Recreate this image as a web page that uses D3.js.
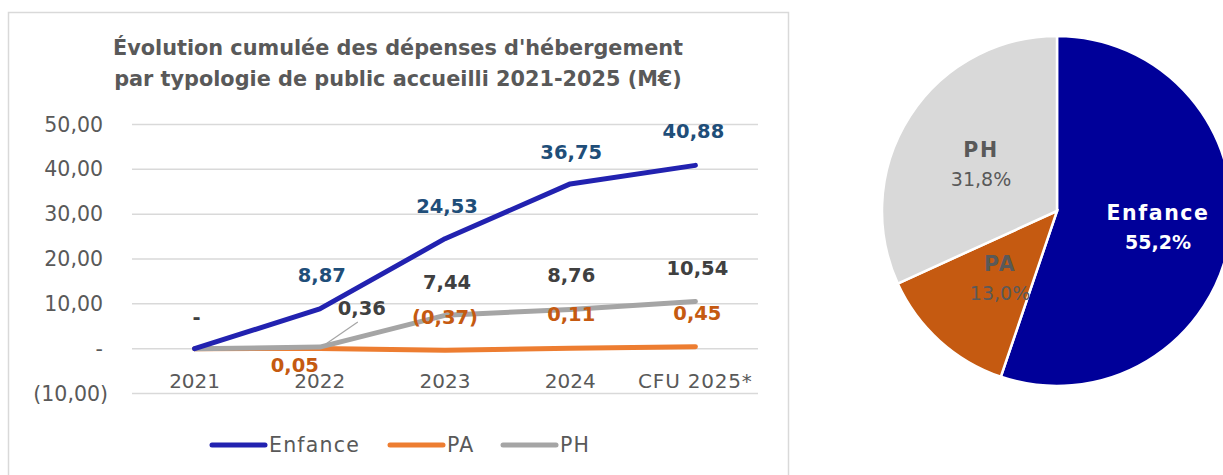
<!DOCTYPE html>
<html>
<head>
<meta charset="utf-8">
<script src="https://cdn.jsdelivr.net/npm/d3@7"></script>
<style>
  body { margin: 0; background: #fff; }
  svg { font-family: "DejaVu Sans", sans-serif; }
</style>
</head>
<body>
<svg id="chart" width="1223" height="475"></svg>
<script>
// data
var years = ["2021", "2022", "2023", "2024", "CFU 2025*"];
var enfance = [0, 8.87, 24.53, 36.75, 40.88];
var pa = [0, 0.05, -0.37, 0.11, 0.45];
var ph = [0, 0.36, 7.44, 8.76, 10.54];
var yTicks = [-10, 0, 10, 20, 30, 40, 50];
var pieNames = ["Enfance", "PA", "PH"];
var pieShares = [55.2, 13.0, 31.8];

var svg = d3.select("#chart");
var fmt = function(v) {
  if (v === 0) return "-";
  var s = Math.abs(v).toFixed(2).replace(".", ",");
  return v < 0 ? "(" + s + ")" : s;
};

// panel border
svg.append("rect")
  .attr("x", 8.5).attr("y", 12.5)
  .attr("width", 780).attr("height", 480)
  .attr("fill", "none").attr("stroke", "#d9d9d9").attr("stroke-width", 1.5);

// title
var title = svg.append("text")
  .attr("text-anchor", "middle")
  .attr("font-weight", "bold")
  .attr("font-size", 20.8)
  .attr("fill", "#595959");
title.append("tspan").attr("x", 398).attr("y", 55).text("Évolution cumulée des dépenses d'hébergement");
title.append("tspan").attr("x", 398).attr("y", 86).text("par typologie de public accueilli 2021-2025 (M€)");

var x = d3.scalePoint().domain(years).range([132, 758]).padding(0.5);
var y = d3.scaleLinear().domain([-10, 50]).range([393.5, 124.5]);

// gridlines
svg.append("g").selectAll("line").data(yTicks).enter().append("line")
  .attr("x1", 132).attr("x2", 758)
  .attr("y1", function(d) { return y(d); })
  .attr("y2", function(d) { return y(d); })
  .attr("stroke", "#d9d9d9").attr("stroke-width", 1.5);

// y axis labels
svg.append("g").selectAll("text").data(yTicks).enter().append("text")
  .attr("x", function(d) { return d < 0 ? 108 : 103; })
  .attr("y", function(d) { return y(d) + 7; })
  .attr("text-anchor", "end")
  .attr("font-size", 20.5)
  .attr("fill", "#595959")
  .text(function(d) { return fmt(d); });

// category labels
svg.append("g").selectAll("text").data(years).enter().append("text")
  .attr("x", function(d) { return x(d); })
  .attr("y", 388)
  .attr("text-anchor", "middle")
  .attr("font-size", 20)
  .attr("fill", "#595959")
  .attr("letter-spacing", function(d) { return d.length > 4 ? 0.8 : 0; })
  .text(function(d) { return d; });

var line = d3.line()
  .x(function(d, i) { return x(years[i]); })
  .y(function(d) { return y(d); });

var series = [
  { name: "Enfance", values: enfance, color: "#2222b0", labelColor: "#1f4e79" },
  { name: "PA", values: pa, color: "#ed7d31", labelColor: "#c55a11" },
  { name: "PH", values: ph, color: "#a5a5a5", labelColor: "#404040" }
];

// draw PA first, then PH, then Enfance on top
[series[1], series[2], series[0]].forEach(function(s) {
  svg.append("path")
    .datum(s.values)
    .attr("d", line)
    .attr("fill", "none")
    .attr("stroke", s.color)
    .attr("stroke-width", 5)
    .attr("stroke-linecap", "round")
    .attr("stroke-linejoin", "round");
});

// data labels: [dx, dy] offsets from point
var labelOffsets = {
  Enfance: [[2, -32], [2, -34], [2, -33], [1, -32], [-2, -34]],
  PA: [[0, 0], [-25, 17], [0, -33], [1, -34], [2, -34]],
  PH: [[0, 0], [42, -39], [2, -33], [1, -34], [2, -33]]
};
series.forEach(function(s) {
  var pts = s.values.map(function(v, i) { return { v: v, i: i }; })
    .filter(function(p) { return !(p.i === 0 && s.name !== "Enfance"); });
  svg.append("g").selectAll("text").data(pts).enter()
    .append("text")
    .attr("x", function(p) { return x(years[p.i]) + labelOffsets[s.name][p.i][0]; })
    .attr("y", function(p) { return y(p.v) + labelOffsets[s.name][p.i][1] + 7; })
    .attr("text-anchor", "middle")
    .attr("font-weight", "bold")
    .attr("font-size", 19.5)
    .attr("fill", function(p) { return p.i === 0 ? "#404040" : s.labelColor; })
    .text(function(p) { return fmt(p.v); });
});

// leader line for PH 0,36
svg.append("line")
  .attr("x1", x(years[1]) + 38).attr("y1", y(ph[1]) - 25)
  .attr("x2", x(years[1]) + 6).attr("y2", y(ph[1]) - 3)
  .attr("stroke", "#a5a5a5").attr("stroke-width", 1.2);

// legend
var legendX = [212, 390, 503];
series.forEach(function(s, i) {
  var g = svg.append("g").attr("transform", "translate(" + legendX[i] + ",445)");
  g.append("line")
    .attr("x1", 0).attr("x2", 53)
    .attr("stroke", s.color).attr("stroke-width", 5)
    .attr("stroke-linecap", "round");
  g.append("text")
    .attr("x", 57).attr("y", 7)
    .attr("font-size", 20.5)
    .attr("letter-spacing", 1.2)
    .attr("fill", "#595959")
    .text(s.name);
});

// pie
var pieColors = ["#000099", "#c55a11", "#d9d9d9"];
var cx = 1057, cy = 211, r = 175;
var pie = d3.pie().sort(null).value(function(d) { return d; });
var arcs = pie(pieShares);
var arc = d3.arc().innerRadius(0).outerRadius(r);
var pg = svg.append("g").attr("transform", "translate(" + cx + "," + cy + ")");
pg.selectAll("path").data(arcs).enter().append("path")
  .attr("d", arc)
  .attr("fill", function(d, i) { return pieColors[i]; })
  .attr("stroke", "#fff")
  .attr("stroke-width", 2.5);

var pieLabelPos = [[101, 2], [-57, 53], [-76, -61]];
var pieLabelColors = ["#ffffff", "#595959", "#595959"];
arcs.forEach(function(a, i) {
  var t = pg.append("text")
    .attr("text-anchor", "middle")
    .attr("fill", pieLabelColors[i]);
  t.append("tspan")
    .attr("x", pieLabelPos[i][0]).attr("y", pieLabelPos[i][1] + 7)
    .attr("font-weight", "bold")
    .attr("font-size", 20.5)
    .attr("letter-spacing", 1.6)
    .text(pieNames[i]);
  t.append("tspan")
    .attr("x", pieLabelPos[i][0]).attr("y", pieLabelPos[i][1] + 36)
    .attr("font-weight", i === 0 ? "bold" : "normal")
    .attr("font-size", 19)
    .text(pieShares[i].toFixed(1).replace(".", ",") + "%");
});
</script>
</body>
</html>
